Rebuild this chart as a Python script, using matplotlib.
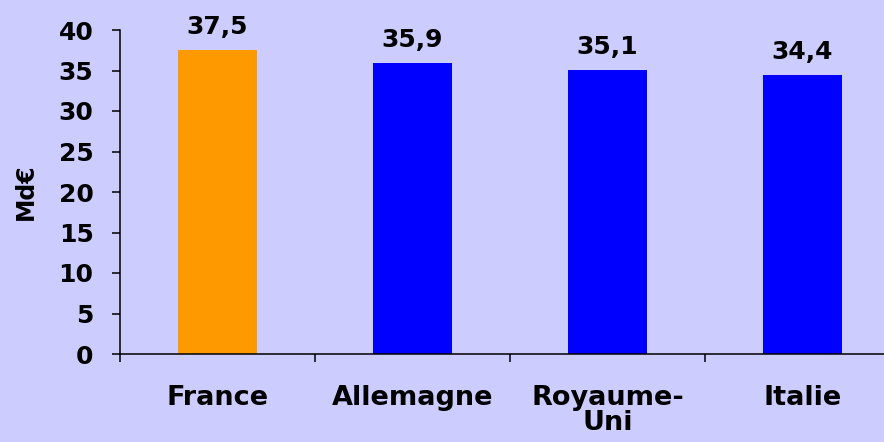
import matplotlib.pyplot as plt
import matplotlib

# Dépenses par pays, en milliards d'euros
pays = ["France", "Allemagne", "Royaume-\nUni", "Italie"]
valeurs = [37.5, 35.9, 35.1, 34.4]
etiquettes = ["37,5", "35,9", "35,1", "34,4"]
couleurs = ["#FF9900", "#0000FF", "#0000FF", "#0000FF"]
graduations = [0, 5, 10, 15, 20, 25, 30, 35, 40]

fond = "#CCCCFF"
matplotlib.rc('font', family='DejaVu Sans', weight='bold', size=18)

fig = plt.figure(figsize=(8.84, 4.42), dpi=100, facecolor=fond)
# the plot area runs slightly past the right edge of the figure
ax = fig.add_axes([120 / 884, (442 - 354) / 442, 780 / 884, 324 / 442])
ax.set_facecolor(fond)

x = list(range(len(pays)))
ax.bar(x, valeurs, width=0.405, color=couleurs, zorder=2)

for xi, v, lab in zip(x, valeurs, etiquettes):
    ax.annotate(lab, (xi, v), xytext=(0, 11.5), textcoords='offset points',
                ha='center', va='baseline', fontsize=18, fontweight='bold')

ax.set_xlim(-0.5, len(pays) - 0.5)
ax.set_ylim(0, 40)
ax.set_yticks(graduations)
ax.set_yticklabels([str(g) for g in graduations])

# category ticks sit between the bars
ax.set_xticks([i - 0.5 for i in range(len(pays) + 1)])
ax.set_xticklabels([])
ax.set_xticks(x, minor=True)
ax.set_xticklabels(pays, minor=True, linespacing=0.95, fontsize=19.5)
ax.tick_params(axis='x', which='minor', length=0, pad=22)
ax.tick_params(axis='x', which='major', length=6, width=1.1, direction='out')
ax.tick_params(axis='y', length=6, width=1.1, direction='out', pad=13)

for s in ['top', 'right']:
    ax.spines[s].set_visible(False)
ax.spines['left'].set_linewidth(1.1)
ax.spines['bottom'].set_linewidth(1.1)

ax.set_ylabel("Md€", fontsize=17, fontweight='bold')
ax.yaxis.set_label_coords(-82 / 780, 0.5)

fig.savefig("out.png", dpi=100, facecolor=fond)
